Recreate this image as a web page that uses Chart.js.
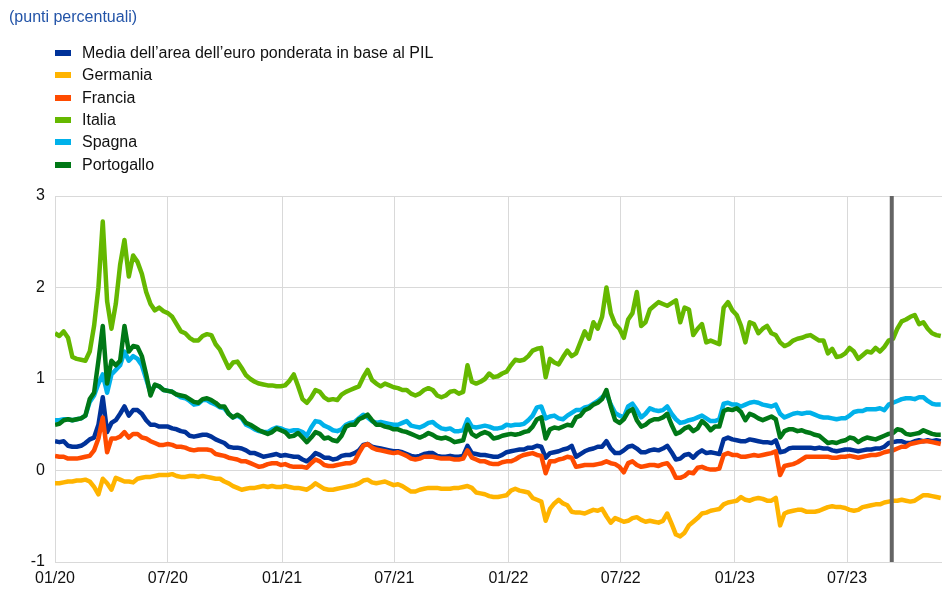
<!DOCTYPE html>
<html>
<head>
<meta charset="utf-8">
<script src="https://cdn.jsdelivr.net/npm/chart.js@4.4.0/dist/chart.umd.min.js"></script>
<style>
  body { margin: 0; background: #fff; font-family: "Liberation Sans", Arial, sans-serif; }
  #page { position: relative; width: 942px; height: 589px; overflow: hidden; }
  #chart { position: absolute; left: 0; top: 0; }
  #title { position: absolute; left: 9px; top: 8px; font-size: 16px; color: #2354a8; }
  #legend { position: absolute; left: 55px; top: 42px; }
  .item { height: 22.3px; display: flex; align-items: center; font-size: 16px; color: #111; }
  .sw { width: 16px; height: 6px; margin-right: 11px; }
</style>
</head>
<body>
<div id="page">
  <canvas id="chart" width="942" height="589"></canvas>
  <div id="title">(punti percentuali)</div>
  <div id="legend"></div>
</div>
<script>
// weekly observations, x = days since 1 Jan 2020
const weeks = Array.from({ length: 205 }, (_, i) => i * 7);

const tickDays = [0, 182, 366, 547, 731, 912, 1096, 1277];
const tickLabels = ['01/20', '07/20', '01/21', '07/21', '01/22', '07/22', '01/23', '07/23'];
const markerDay = 1349; // vertical line, Sept 2023

const euroArea = [
  0.32,0.31,0.32,0.27,0.26,0.26,0.27,0.30,0.34,0.36,0.50,0.80,0.42,0.52,0.55,0.62,0.70,0.60,0.66,0.66,0.62,0.55,0.50,0.50,0.48,0.48,
  0.48,0.46,0.45,0.43,0.42,0.38,0.37,0.38,0.39,0.39,0.37,0.34,0.32,0.30,0.26,0.25,0.25,0.24,0.22,0.19,0.19,0.17,0.15,0.16,0.17,0.18,0.16,
  0.17,0.16,0.15,0.15,0.12,0.10,0.14,0.19,0.17,0.14,0.14,0.12,0.13,0.16,0.17,0.17,0.19,0.22,0.28,0.29,0.26,0.25,0.24,0.23,0.22,
  0.21,0.21,0.20,0.18,0.16,0.15,0.16,0.18,0.19,0.19,0.16,0.15,0.15,0.16,0.15,0.15,0.16,0.27,0.19,0.18,0.17,0.17,0.16,0.15,0.15,0.17,
  0.20,0.21,0.22,0.23,0.23,0.25,0.25,0.27,0.26,0.14,0.19,0.20,0.21,0.23,0.24,0.27,0.15,0.18,0.21,0.23,0.24,0.26,0.26,0.32,0.24,
  0.19,0.19,0.22,0.26,0.27,0.24,0.20,0.20,0.22,0.23,0.22,0.24,0.27,0.20,0.12,0.13,0.17,0.18,0.14,0.19,0.22,0.19,0.20,0.19,0.18,0.34,0.36,
  0.34,0.33,0.32,0.32,0.34,0.33,0.32,0.31,0.31,0.30,0.33,0.20,0.21,0.24,0.25,0.25,0.25,0.25,0.25,0.24,0.25,0.24,0.24,0.22,0.21,
  0.22,0.23,0.23,0.22,0.21,0.22,0.23,0.23,0.24,0.24,0.26,0.30,0.31,0.32,0.32,0.30,0.30,0.32,0.33,0.32,0.33,0.32,0.33,0.32
];
const germany = [
  -0.14,-0.14,-0.13,-0.12,-0.12,-0.11,-0.11,-0.10,-0.12,-0.18,-0.26,-0.09,-0.14,-0.21,-0.08,-0.10,-0.12,-0.12,-0.13,-0.09,-0.08,-0.07,-0.07,-0.06,-0.05,-0.05,
  -0.05,-0.04,-0.06,-0.07,-0.07,-0.06,-0.06,-0.07,-0.06,-0.07,-0.08,-0.09,-0.09,-0.12,-0.14,-0.17,-0.19,-0.21,-0.20,-0.19,-0.19,-0.18,-0.17,-0.18,-0.17,-0.18,
  -0.18,-0.17,-0.18,-0.19,-0.19,-0.20,-0.21,-0.18,-0.14,-0.17,-0.20,-0.21,-0.21,-0.20,-0.19,-0.18,-0.17,-0.16,-0.14,-0.11,-0.10,-0.13,-0.14,-0.13,-0.12,-0.14,
  -0.16,-0.15,-0.17,-0.20,-0.23,-0.23,-0.21,-0.20,-0.19,-0.19,-0.19,-0.20,-0.20,-0.20,-0.19,-0.19,-0.18,-0.17,-0.19,-0.24,-0.25,-0.26,-0.28,-0.29,-0.29,-0.28,
  -0.27,-0.22,-0.20,-0.22,-0.23,-0.24,-0.30,-0.32,-0.34,-0.55,-0.42,-0.36,-0.32,-0.36,-0.38,-0.45,-0.46,-0.46,-0.47,-0.45,-0.43,-0.44,-0.42,-0.50,-0.57,
  -0.52,-0.54,-0.56,-0.55,-0.52,-0.51,-0.54,-0.56,-0.55,-0.56,-0.57,-0.55,-0.47,-0.58,-0.70,-0.72,-0.68,-0.60,-0.56,-0.52,-0.47,-0.46,-0.44,-0.43,-0.42,-0.37,-0.35,
  -0.34,-0.33,-0.29,-0.32,-0.33,-0.31,-0.30,-0.31,-0.33,-0.33,-0.30,-0.60,-0.47,-0.45,-0.44,-0.43,-0.43,-0.45,-0.45,-0.45,-0.44,-0.42,-0.40,-0.39,-0.40,
  -0.40,-0.41,-0.43,-0.44,-0.43,-0.40,-0.39,-0.38,-0.37,-0.37,-0.35,-0.34,-0.33,-0.33,-0.32,-0.33,-0.34,-0.33,-0.30,-0.27,-0.27,-0.28,-0.29,-0.30
];
const france = [
  0.16,0.15,0.15,0.13,0.13,0.13,0.14,0.15,0.16,0.22,0.35,0.58,0.20,0.35,0.35,0.37,0.42,0.36,0.40,0.40,0.36,0.35,0.32,0.30,0.28,0.28,
  0.29,0.28,0.26,0.26,0.25,0.23,0.22,0.23,0.23,0.23,0.22,0.18,0.17,0.16,0.14,0.13,0.12,0.10,0.10,0.08,0.06,0.04,0.05,0.07,0.08,0.08,0.06,
  0.07,0.05,0.04,0.04,0.04,0.03,0.08,0.12,0.10,0.06,0.05,0.05,0.06,0.07,0.08,0.08,0.10,0.19,0.27,0.29,0.25,0.23,0.22,0.21,0.20,
  0.19,0.20,0.18,0.16,0.13,0.12,0.13,0.15,0.15,0.15,0.14,0.13,0.13,0.13,0.12,0.12,0.13,0.22,0.14,0.12,0.10,0.10,0.08,0.07,0.07,0.09,
  0.10,0.10,0.12,0.15,0.17,0.18,0.19,0.17,0.16,-0.03,0.10,0.10,0.12,0.13,0.15,0.14,0.04,0.05,0.06,0.06,0.06,0.07,0.08,0.10,0.08,
  0.07,0.04,-0.02,0.08,0.10,0.06,0.04,0.05,0.06,0.06,0.05,0.07,0.08,0.02,-0.08,-0.08,-0.06,-0.02,-0.03,0.03,0.04,0.02,0.01,0.01,0.02,0.17,0.19,
  0.17,0.17,0.15,0.15,0.16,0.17,0.16,0.17,0.18,0.19,0.21,-0.05,0.05,0.06,0.07,0.09,0.12,0.15,0.15,0.15,0.15,0.15,0.15,0.14,0.14,
  0.15,0.15,0.16,0.15,0.14,0.15,0.16,0.17,0.17,0.18,0.20,0.21,0.22,0.24,0.26,0.26,0.29,0.30,0.31,0.32,0.32,0.31,0.30,0.29
];
const italy = [
  1.50,1.47,1.52,1.45,1.24,1.22,1.21,1.20,1.30,1.58,2.00,2.72,1.85,1.55,1.82,2.25,2.52,2.12,2.35,2.28,2.15,1.95,1.82,1.75,1.78,1.74,
  1.72,1.68,1.60,1.52,1.50,1.45,1.42,1.42,1.47,1.49,1.48,1.38,1.32,1.22,1.12,1.18,1.19,1.12,1.04,1.00,0.97,0.95,0.94,0.93,0.93,0.92,
  0.92,0.93,0.98,1.05,0.92,0.78,0.74,0.80,0.88,0.86,0.80,0.77,0.78,0.77,0.83,0.86,0.88,0.90,0.92,1.02,1.10,0.99,0.95,0.92,0.95,0.93,0.91,
  0.90,0.88,0.88,0.84,0.82,0.84,0.88,0.90,0.88,0.82,0.80,0.82,0.86,0.87,0.84,0.86,1.15,0.97,0.95,0.97,1.00,1.06,1.02,1.03,1.06,
  1.08,1.15,1.21,1.20,1.21,1.25,1.31,1.33,1.34,1.02,1.22,1.18,1.16,1.24,1.31,1.25,1.28,1.40,1.52,1.44,1.62,1.55,1.68,2.00,1.72,
  1.60,1.55,1.45,1.65,1.72,1.95,1.58,1.62,1.76,1.80,1.84,1.82,1.80,1.83,1.86,1.62,1.78,1.76,1.48,1.55,1.60,1.40,1.42,1.40,1.38,1.78,1.84,
  1.75,1.70,1.58,1.40,1.62,1.60,1.50,1.55,1.58,1.50,1.48,1.40,1.36,1.38,1.42,1.44,1.45,1.47,1.48,1.45,1.42,1.42,1.28,1.33,1.24,
  1.25,1.28,1.34,1.30,1.22,1.26,1.30,1.29,1.34,1.30,1.35,1.42,1.44,1.55,1.63,1.65,1.68,1.70,1.60,1.62,1.55,1.50,1.48,1.47
];
const spain = [
  0.55,0.55,0.56,0.56,0.55,0.56,0.57,0.60,0.75,0.82,0.95,1.05,0.85,1.05,1.10,1.15,1.30,1.20,1.25,1.22,1.15,1.00,0.85,0.93,0.92,0.88,0.87,
  0.86,0.83,0.80,0.79,0.76,0.72,0.73,0.77,0.77,0.74,0.72,0.69,0.68,0.62,0.58,0.60,0.57,0.50,0.48,0.45,0.43,0.42,0.42,0.45,0.47,
  0.46,0.44,0.43,0.44,0.44,0.42,0.38,0.47,0.54,0.53,0.49,0.47,0.44,0.43,0.45,0.50,0.52,0.53,0.57,0.61,0.58,0.54,0.52,0.53,0.52,0.51,
  0.50,0.50,0.52,0.54,0.49,0.48,0.47,0.49,0.52,0.53,0.49,0.46,0.45,0.46,0.43,0.43,0.44,0.56,0.48,0.47,0.48,0.49,0.48,0.46,0.46,0.47,
  0.50,0.49,0.50,0.50,0.51,0.55,0.60,0.69,0.70,0.57,0.59,0.60,0.57,0.56,0.60,0.63,0.66,0.66,0.69,0.70,0.73,0.76,0.80,0.84,0.72,
  0.63,0.60,0.58,0.70,0.73,0.66,0.58,0.62,0.68,0.66,0.65,0.66,0.70,0.62,0.56,0.52,0.53,0.55,0.56,0.58,0.60,0.57,0.54,0.54,0.56,0.73,0.74,
  0.72,0.72,0.70,0.72,0.74,0.75,0.74,0.72,0.71,0.70,0.72,0.62,0.58,0.60,0.62,0.63,0.62,0.63,0.63,0.61,0.59,0.58,0.58,0.57,0.56,
  0.57,0.57,0.60,0.64,0.65,0.65,0.67,0.67,0.67,0.68,0.66,0.72,0.74,0.76,0.78,0.79,0.79,0.78,0.80,0.80,0.76,0.73,0.72,0.72
];
const portugal = [
  0.50,0.51,0.55,0.56,0.55,0.56,0.57,0.60,0.78,0.85,1.20,1.58,0.95,1.20,1.15,1.20,1.58,1.30,1.36,1.35,1.25,1.05,0.82,0.94,0.92,0.88,0.87,
  0.86,0.83,0.82,0.81,0.78,0.75,0.74,0.78,0.79,0.77,0.74,0.70,0.70,0.62,0.58,0.61,0.58,0.52,0.50,0.47,0.44,0.42,0.40,0.42,0.46,
  0.44,0.42,0.37,0.38,0.41,0.36,0.31,0.36,0.42,0.40,0.35,0.36,0.33,0.32,0.38,0.48,0.50,0.50,0.56,0.58,0.61,0.55,0.50,0.50,0.48,0.47,
  0.45,0.45,0.43,0.42,0.40,0.38,0.36,0.38,0.41,0.39,0.36,0.35,0.36,0.34,0.31,0.32,0.33,0.50,0.40,0.37,0.40,0.42,0.40,0.35,0.36,0.38,
  0.39,0.40,0.39,0.40,0.42,0.43,0.48,0.56,0.58,0.35,0.45,0.47,0.46,0.48,0.50,0.49,0.58,0.60,0.66,0.68,0.72,0.74,0.78,0.88,0.70,
  0.55,0.52,0.56,0.64,0.67,0.55,0.48,0.50,0.54,0.56,0.56,0.58,0.62,0.50,0.40,0.42,0.46,0.48,0.43,0.46,0.54,0.50,0.44,0.48,0.48,0.65,0.67,
  0.66,0.68,0.64,0.55,0.62,0.60,0.57,0.55,0.57,0.59,0.56,0.36,0.43,0.45,0.45,0.43,0.44,0.42,0.41,0.39,0.38,0.34,0.30,0.31,0.30,
  0.32,0.33,0.36,0.35,0.31,0.34,0.36,0.35,0.34,0.36,0.38,0.40,0.41,0.45,0.44,0.40,0.39,0.40,0.41,0.44,0.42,0.40,0.39,0.39
];

const seriesNames = ["Media dell\u2019area dell\u2019euro ponderata in base al PIL", 'Germania', 'Francia', 'Italia', 'Spagna', 'Portogallo'];
const seriesColors = ['#003299', '#ffb400', '#ff4b00', '#65b800', '#00b1ea', '#007816'];
const seriesData = [euroArea, germany, france, italy, spain, portugal];

// html legend
const legend = document.getElementById('legend');
seriesNames.forEach((name, i) => {
  const row = document.createElement('div');
  row.className = 'item';
  row.innerHTML = `<span class="sw" style="background:${seriesColors[i]}"></span><span>${name}</span>`;
  legend.appendChild(row);
});

const datasets = seriesData.map((d, i) => ({
  label: seriesNames[i],
  data: d,
  borderColor: seriesColors[i],
  borderWidth: 4.5,
  order: 10 - i   // later series on top
}));
datasets.push({
  label: 'marker',
  data: [{ x: markerDay, y: -1 }, { x: markerDay, y: 3 }],
  borderColor: '#646464',
  borderWidth: 4,
  order: 0
});

const tickFont = { family: '"Liberation Sans", Arial, sans-serif', size: 16 };

new Chart(document.getElementById('chart').getContext('2d'), {
  type: 'line',
  data: { labels: weeks, datasets: datasets },
  options: {
    responsive: false,
    animation: false,
    layout: { padding: { top: 196, right: 0, left: 0, bottom: 0 } },
    plugins: { legend: { display: false }, tooltip: { enabled: false } },
    elements: {
      point: { radius: 0 },
      line: { tension: 0, borderJoinStyle: 'round', borderCapStyle: 'butt' }
    },
    scales: {
      x: {
        type: 'linear', min: 0, max: 1430,
        afterBuildTicks: s => { s.ticks = tickDays.map(v => ({ value: v })); },
        afterFit: s => { s.height = 27; },
        ticks: { callback: (v, i) => tickLabels[i], font: tickFont, color: '#111', padding: 7, maxRotation: 0, autoSkip: false },
        grid: { color: '#d9d9d9', lineWidth: 1, drawTicks: false },
        border: { color: '#d9d9d9' }
      },
      y: {
        min: -1, max: 3,
        afterFit: s => { s.width = 55; },
        ticks: { stepSize: 1, font: tickFont, color: '#111', padding: 10 },
        grid: { color: '#d9d9d9', lineWidth: 1, drawTicks: false },
        border: { color: '#d9d9d9' }
      }
    }
  }
});
</script>
</body>
</html>
